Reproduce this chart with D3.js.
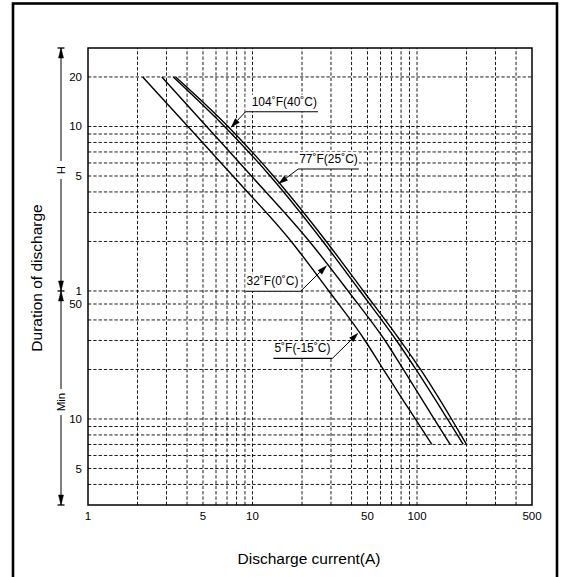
<!DOCTYPE html>
<html lang="en">
<head>
<meta charset="utf-8">
<title>Discharge time vs current</title>
<style>
    body { margin: 0; background: #fff; }
    text { font-family: "Liberation Sans", Arial, sans-serif; fill: #000; }
    .grid line { stroke: #000; stroke-width: 0.9; stroke-dasharray: 3.3, 2; }
    .curve { fill: none; stroke: #000; stroke-width: 1.4; }
</style>
<script src="https://cdn.jsdelivr.net/npm/d3@7/dist/d3.min.js"></script>
</head>
<body>
<svg width="561" height="577"></svg>
<script>
    // discharge time in minutes, one point per row
    const times = [1200, 600, 300, 120, 60, 30, 20, 10, 7];
    // discharge current (A) at each time, per temperature
    const amps5F = [2.15, 4.05, 7.6, 17.2, 29.1, 48.3, 62.4, 97.7, 123];
    const amps32F = [2.81, 5.26, 9.85, 22.2, 38.1, 63.9, 82.6, 127, 159];
    const amps77F = [3.30, 6.76, 12.8, 26.8, 45.0, 75.0, 98.5, 153, 191];
    const amps104F = [3.41, 7.10, 13.4, 28.1, 47.2, 79.1, 105, 162, 200];

    const xTickLabels = [1, 5, 10, 50, 100, 500];
    const xGrid = [2, 3, 4, 5, 6, 7, 8, 9, 10, 20, 30, 40, 50, 60, 70, 80, 90, 100, 200, 300, 400];
    const hourGrid = [1, 2, 3, 4, 5, 6, 7, 8, 9, 10, 20];
    const minGrid = [4, 5, 6, 7, 8, 9, 10, 20, 30, 40, 50];
    const hourLabels = [20, 10, 5, 1];
    const minLabels = [50, 10, 5];

    const svg = d3.select("svg");
    const x = d3.scaleLog().domain([1, 500]).range([88, 532]);
    const y = d3.scaleLog().domain([3, 1800]).range([505, 48]);

    // outer frame
    svg.append("rect")
        .attr("x", 13).attr("y", 3.5)
        .attr("width", 544).attr("height", 620)
        .attr("fill", "none").attr("stroke", "#000").attr("stroke-width", 2.6);

    // grid
    const grid = svg.append("g").attr("class", "grid");
    grid.selectAll(".vx").data(xGrid).enter().append("line")
        .attr("x1", d => x(d)).attr("x2", d => x(d))
        .attr("y1", y(3)).attr("y2", y(1800));
    const yGrid = hourGrid.map(h => h * 60).concat(minGrid);
    grid.selectAll(".hy").data(yGrid).enter().append("line")
        .attr("x1", x(1)).attr("x2", x(500))
        .attr("y1", d => y(d)).attr("y2", d => y(d));

    // plot border
    svg.append("rect")
        .attr("x", x(1)).attr("y", y(1800))
        .attr("width", x(500) - x(1)).attr("height", y(3) - y(1800))
        .attr("fill", "none").attr("stroke", "#000").attr("stroke-width", 1.5);

    // tick labels
    svg.selectAll(".xl").data(xTickLabels).enter().append("text")
        .attr("x", d => x(d)).attr("y", 519.5)
        .attr("text-anchor", "middle").style("font-size", "11.5px")
        .text(d => d);
    svg.selectAll(".hl").data(hourLabels).enter().append("text")
        .attr("x", 82).attr("y", d => y(d * 60) + 4)
        .attr("text-anchor", "end").style("font-size", "11.5px")
        .text(d => d);
    svg.selectAll(".ml").data(minLabels).enter().append("text")
        .attr("x", 82).attr("y", d => y(d) + 4)
        .attr("text-anchor", "end").style("font-size", "11.5px")
        .text(d => d);

    // axis titles
    svg.append("text")
        .attr("x", 309).attr("y", 564)
        .attr("text-anchor", "middle").style("font-size", "15.5px")
        .text("Discharge current(A)");
    svg.append("text")
        .attr("transform", "translate(41.5,278) rotate(-90)")
        .attr("text-anchor", "middle").style("font-size", "15.5px")
        .text("Duration of discharge");

    // H / Min bracket
    const bx = 61;
    const br = svg.append("g").attr("stroke", "#000").attr("fill", "#000");
    function arrowHead(g, px, py, dir) {
        // dir -1 points up, 1 points down
        g.append("path")
            .attr("d", `M${px},${py} L${px - 2.5},${py - dir * 10} L${px + 2.5},${py - dir * 10} Z`)
            .attr("stroke-width", 0.5);
    }
    function bracket(top, bottom, mid, gap, label) {
        br.append("line").attr("x1", bx).attr("x2", bx).attr("y1", top).attr("y2", mid - gap).attr("stroke-width", 1);
        br.append("line").attr("x1", bx).attr("x2", bx).attr("y1", mid + gap).attr("y2", bottom).attr("stroke-width", 1);
        arrowHead(br, bx, top, -1);
        arrowHead(br, bx, bottom, 1);
        svg.append("text")
            .attr("transform", `translate(${bx + 4},${mid}) rotate(-90)`)
            .attr("text-anchor", "middle").style("font-size", "11.5px")
            .text(label);
    }
    bracket(y(1800), y(60), 170, 9, "H");
    bracket(y(60), y(3), 402, 13, "Min");
    [y(1800), y(60), y(3)].forEach(v => {
        br.append("line").attr("x1", bx - 3.5).attr("x2", bx + 3.5)
            .attr("y1", v).attr("y2", v).attr("stroke-width", 1.3);
    });

    // curves
    const series = [amps5F, amps32F, amps77F, amps104F];
    const line = d3.line()
        .x(d => x(d[0])).y(d => y(d[1]))
        .curve(d3.curveMonotoneX);
    svg.selectAll(".curve").data(series).enter().append("path")
        .attr("class", "curve")
        .attr("d", s => line(s.map((a, i) => [a, times[i]])));

    // current on a curve at a given time, log-linear between points
    function ampsAt(s, t) {
        for (let i = 0; i < times.length - 1; i++) {
            if (t <= times[i] && t >= times[i + 1]) {
                const f = Math.log(times[i] / t) / Math.log(times[i] / times[i + 1]);
                return Math.exp(Math.log(s[i]) + f * Math.log(s[i + 1] / s[i]));
            }
        }
        return s[0];
    }

    // callouts
    const notes = [
        { text: "104˚F(40˚C)", s: amps104F, t: 590, dx: 15, dy: -16, side: 1, pad: 6 },
        { text: "77˚F(25˚C)", s: amps77F, t: 268, dx: 20, dy: -15, side: 1, pad: 1 },
        { text: "32˚F(0˚C)", s: amps32F, t: 86, dx: -26.5, dy: 26, side: -1, pad: 2 },
        { text: "5˚F(-15˚C)", s: amps5F, t: 33.4, dx: -26, dy: 25.5, side: -1, pad: 2 }
    ];
    notes.forEach(n => {
        const tx = x(ampsAt(n.s, n.t)) + (n.side > 0 ? 1.5 : -1), ty = y(n.t);
        const ex = tx + n.dx, ey = ty + n.dy;
        const g = svg.append("g");
        const bg = g.append("rect").attr("fill", "#fff");
        const label = g.append("text").style("font-size", "12px").text(n.text)
            .attr("y", ey - 6);
        const w = label.node().getComputedTextLength();
        let x0, x1;
        if (n.side > 0) {
            label.attr("x", ex + n.pad);
            x0 = ex; x1 = ex + n.pad + w + 1;
        } else {
            label.attr("x", ex - n.pad - w);
            x0 = ex - n.pad - w - 1; x1 = ex;
        }
        bg.attr("x", x0).attr("y", ey - 17).attr("width", x1 - x0).attr("height", 17);
        g.append("line").attr("x1", x0).attr("x2", x1).attr("y1", ey).attr("y2", ey)
            .attr("stroke", "#000").attr("stroke-width", 1.1);
        // leader and arrow
        const ang = Math.atan2(ty - ey, tx - ex);
        const L = 10, hw = 3;
        const bxp = tx - L * Math.cos(ang), byp = ty - L * Math.sin(ang);
        g.append("line").attr("x1", ex).attr("y1", ey).attr("x2", bxp).attr("y2", byp)
            .attr("stroke", "#000").attr("stroke-width", 1);
        g.append("path")
            .attr("d", `M${tx},${ty} L${bxp - hw * Math.sin(ang)},${byp + hw * Math.cos(ang)} L${bxp + hw * Math.sin(ang)},${byp - hw * Math.cos(ang)} Z`)
            .attr("fill", "#000");
    });
</script>
</body>
</html>
